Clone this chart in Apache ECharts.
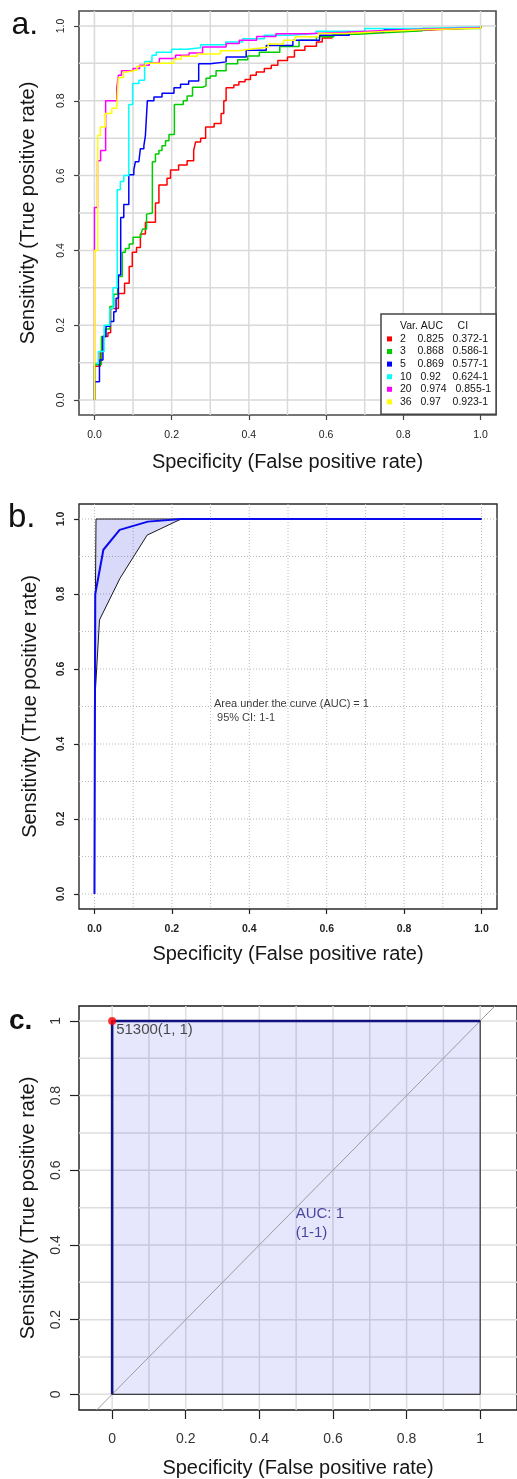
<!DOCTYPE html>
<html><head><meta charset="utf-8">
<script src="https://cdn.jsdelivr.net/npm/echarts@6/dist/echarts.min.js"></script>
<style>html,body{margin:0;padding:0;background:#fff}#c{width:517px;height:1479px}</style>
</head><body><div id="c"></div>
<script>
// ---------- shared ticks ----------
const gridVals = [0, 0.1, 0.2, 0.3, 0.4, 0.5, 0.6, 0.7, 0.8, 0.9, 1];
const tickVals = [0, 0.2, 0.4, 0.6, 0.8, 1];
const xTitle = 'Specificity (False positive rate)';
const yTitle = 'Sensitivity (True positive rate)';

// ---------- panel a ----------
const aVarNames = ['2', '3', '5', '10', '20', '36'];
const aAUC = ['0.825', '0.868', '0.869', '0.92', '0.974', '0.97'];
const aCI = ['0.372-1', '0.586-1', '0.577-1', '0.624-1', '0.855-1', '0.923-1'];
const aLegendHeader = 'Var. AUC     CI';
const roc2 = [[0,0],[0,0.09],[0.015,0.13],[0.022,0.17],[0.035,0.18],[0.042,0.245],[0.062,0.285],[0.078,0.312],[0.09,0.357],[0.098,0.395],[0.109,0.408],[0.119,0.444],[0.132,0.475],[0.158,0.527],[0.167,0.575],[0.188,0.593],[0.197,0.615],[0.218,0.628],[0.24,0.64],[0.257,0.667],[0.262,0.69],[0.275,0.70],[0.288,0.73],[0.31,0.739],[0.328,0.766],[0.335,0.80],[0.341,0.835],[0.361,0.842],[0.374,0.851],[0.39,0.857],[0.404,0.868],[0.419,0.877],[0.44,0.886],[0.458,0.895],[0.475,0.908],[0.50,0.917],[0.518,0.935],[0.545,0.946],[0.575,0.957],[0.59,0.968],[0.615,0.975],[0.64,0.982],[0.70,0.986],[0.79,0.99],[0.88,0.995],[1,1]];
const roc3 = [[0,0],[0,0.094],[0.018,0.17],[0.028,0.19],[0.04,0.25],[0.05,0.283],[0.06,0.33],[0.072,0.395],[0.08,0.405],[0.09,0.417],[0.10,0.435],[0.12,0.444],[0.125,0.457],[0.135,0.497],[0.14,0.50],[0.15,0.637],[0.158,0.658],[0.167,0.667],[0.175,0.68],[0.184,0.693],[0.193,0.71],[0.207,0.79],[0.23,0.80],[0.24,0.813],[0.254,0.836],[0.28,0.84],[0.289,0.86],[0.30,0.866],[0.315,0.88],[0.341,0.899],[0.371,0.91],[0.397,0.92],[0.427,0.93],[0.48,0.945],[0.53,0.962],[0.575,0.971],[0.62,0.978],[0.68,0.982],[0.75,0.987],[0.85,0.993],[1,1]];
const roc5 = [[0,0],[0,0.049],[0.013,0.107],[0.022,0.17],[0.03,0.197],[0.041,0.21],[0.05,0.236],[0.056,0.272],[0.062,0.334],[0.068,0.488],[0.076,0.523],[0.089,0.602],[0.102,0.615],[0.106,0.637],[0.115,0.641],[0.119,0.672],[0.128,0.68],[0.132,0.707],[0.137,0.80],[0.154,0.81],[0.175,0.82],[0.206,0.835],[0.223,0.844],[0.244,0.853],[0.27,0.899],[0.30,0.904],[0.341,0.917],[0.393,0.935],[0.445,0.948],[0.514,0.962],[0.583,0.975],[0.66,0.984],[0.75,0.99],[0.85,0.995],[1,1]];
const roc10 = [[0,0],[0,0.098],[0.01,0.13],[0.025,0.2],[0.04,0.245],[0.048,0.30],[0.059,0.562],[0.067,0.584],[0.076,0.60],[0.089,0.79],[0.099,0.846],[0.115,0.855],[0.13,0.905],[0.149,0.922],[0.16,0.93],[0.2,0.938],[0.24,0.942],[0.275,0.95],[0.34,0.957],[0.384,0.966],[0.44,0.975],[0.505,0.98],[0.574,0.986],[0.7,0.993],[0.85,0.997],[1,1]];
const roc20 = [[0,0],[0,0.515],[0.008,0.64],[0.016,0.667],[0.029,0.80],[0.058,0.836],[0.062,0.868],[0.07,0.88],[0.10,0.886],[0.117,0.895],[0.142,0.901],[0.168,0.913],[0.21,0.922],[0.245,0.928],[0.28,0.944],[0.341,0.953],[0.375,0.962],[0.42,0.972],[0.47,0.979],[0.55,0.983],[0.65,0.988],[0.75,0.991],[0.85,0.995],[1,1]];
const roc36 = [[0,0],[0,0.40],[0.0085,0.707],[0.015,0.73],[0.028,0.766],[0.045,0.78],[0.058,0.786],[0.062,0.862],[0.075,0.877],[0.085,0.882],[0.11,0.892],[0.132,0.90],[0.206,0.912],[0.225,0.919],[0.266,0.925],[0.326,0.934],[0.37,0.939],[0.413,0.943],[0.45,0.952],[0.49,0.962],[0.52,0.971],[0.58,0.98],[0.65,0.985],[0.75,0.99],[0.85,0.994],[1,1]];
const aRocs = [roc2, roc3, roc5, roc10, roc20, roc36];

// ---------- panel b ----------
const bRoc = [[0,0],[0.002,0.80],[0.023,0.918],[0.065,0.971],[0.138,0.993],[0.224,1.0],[1,1]];
const bUpper = [[0,0],[0,0.5],[0.004,1.0],[1,1]];
const bLower = [[0,0],[0,0.5],[0.013,0.731],[0.066,0.842],[0.136,0.957],[0.224,1.0],[1,1]];
const bText = ['Area under the curve (AUC) = 1', ' 95% CI: 1-1'];

// ---------- panel c ----------
const cRoc = [[0,0],[0,1],[1,1]];
const cBest = [0, 1];
const cBestLabel = '51300(1, 1)';
const cAucText = ['AUC: 1', '(1-1)'];

// ---------- styling / layout ----------
const FONT = '"Liberation Sans", Arial, Helvetica, sans-serif';
const aColors = ['#ff0000', '#00cd00', '#0000ff', '#00ffff', '#ff00ff', '#ffff00'];
const aRange = {x: [-0.04, 1.04], y: [-0.04, 1.04]};
const bRange = {x: [-0.04, 1.04], y: [-0.04, 1.04]};
const cRange = {x: [-0.09, 1.1], y: [-0.042, 1.04]};
const bTextAnchor = [0.31, 0.524];
const cAucAnchor = [0.5, 0.508];

function fmt1(v) { return v.toFixed(1); }
function fmtC(v) { return String(v); }

function mkX(gi, range, o) {
  return {
    gridIndex: gi, type: 'value', min: range[0], max: range[1], position: 'bottom',
    axisLine: {show: false, onZero: false},
    axisTick: {show: true, customValues: tickVals, length: o.tickLen, inside: false, lineStyle: {color: o.tickColor, width: 1.2}},
    axisLabel: {customValues: tickVals, formatter: o.fmt, margin: o.xMargin, fontSize: o.labelSize, fontWeight: o.labelWeight || 'normal', color: o.labelColor, fontFamily: FONT},
    splitLine: {show: false},
    name: xTitle, nameLocation: 'middle', nameGap: o.xNameGap,
    nameTextStyle: {fontSize: 20, lineHeight: 20, color: '#161616', fontFamily: FONT}
  };
}
function mkY(gi, range, o) {
  return {
    gridIndex: gi, type: 'value', min: range[0], max: range[1], position: 'left',
    axisLine: {show: false, onZero: false},
    axisTick: {show: true, customValues: tickVals, length: o.tickLen, inside: false, lineStyle: {color: o.tickColor, width: 1.2}},
    axisLabel: {customValues: tickVals, formatter: o.fmt, rotate: 90, margin: o.yMargin, fontSize: o.labelSize, fontWeight: o.labelWeight || 'normal', color: o.labelColor, fontFamily: FONT},
    splitLine: {show: false},
    name: yTitle, nameLocation: 'middle', nameRotate: 90, nameGap: o.yNameGap,
    nameTextStyle: {fontSize: 20, lineHeight: 20, color: '#161616', fontFamily: FONT}
  };
}

function gridSeries(idx, style) {
  return [
    {type: 'custom', xAxisIndex: idx, yAxisIndex: idx, silent: true, z: 1,
     data: gridVals.map(v => [v, 0]),
     renderItem(params, api) {
       const cs = params.coordSys; const x = api.coord([api.value(0), 0])[0];
       return {type: 'line', shape: {x1: x, y1: cs.y, x2: x, y2: cs.y + cs.height}, style: Object.assign({}, style)};
     }},
    {type: 'custom', xAxisIndex: idx, yAxisIndex: idx, silent: true, z: 1,
     data: gridVals.map(v => [0, v]),
     renderItem(params, api) {
       const cs = params.coordSys; const y = api.coord([0, api.value(1)])[1];
       return {type: 'line', shape: {x1: cs.x, y1: y, x2: cs.x + cs.width, y2: y}, style: Object.assign({}, style)};
     }}
  ];
}

const series = [];
// panel a
series.push(...gridSeries(0, {stroke: '#d9d9d9', lineWidth: 1.5}));
aRocs.forEach((d, i) => series.push({
  type: 'line', name: aVarNames[i], xAxisIndex: 0, yAxisIndex: 0, data: d, step: 'end',
  symbol: 'none', showSymbol: false, color: aColors[i], silent: true, z: 3,
  lineStyle: {color: aColors[i], width: 1.5}
}));
series.push({type: 'line', name: 'hdr', xAxisIndex: 0, yAxisIndex: 0, data: [], symbol: 'none'});

// panel b
series.push(...gridSeries(1, {stroke: '#b8b8b8', lineWidth: 1, lineDash: [1, 2]}));
series.push({
  type: 'custom', xAxisIndex: 1, yAxisIndex: 1, silent: true, z: 2, data: [[0, 0]],
  renderItem(params, api) {
    const pts = bUpper.slice(1).concat(bLower.slice(1).reverse()).map(p => api.coord(p));
    return {type: 'polygon', shape: {points: pts}, style: {fill: 'rgba(20,20,225,0.16)'}};
  }
});
series.push({type: 'line', xAxisIndex: 1, yAxisIndex: 1, data: bUpper, symbol: 'none', silent: true, z: 3, lineStyle: {color: '#1a1a1a', width: 1}});
series.push({type: 'line', xAxisIndex: 1, yAxisIndex: 1, data: bLower, symbol: 'none', silent: true, z: 3, lineStyle: {color: '#1a1a1a', width: 1}});
series.push({type: 'line', xAxisIndex: 1, yAxisIndex: 1, data: bRoc, symbol: 'none', silent: true, z: 4, lineStyle: {color: '#0a0aee', width: 2}});
series.push({
  type: 'scatter', xAxisIndex: 1, yAxisIndex: 1, data: [bTextAnchor], symbolSize: 1, silent: true, z: 6,
  itemStyle: {color: 'rgba(0,0,0,0)'},
  label: {show: true, formatter: bText.join('\n'), position: [0, 0], align: 'left', verticalAlign: 'top',
          fontSize: 11, lineHeight: 14, color: '#0a0a0a', fontFamily: FONT}
});

// panel c
series.push(...gridSeries(2, {stroke: '#dedede', lineWidth: 1.5}));
series.push({type: 'line', xAxisIndex: 2, yAxisIndex: 2, data: cRoc, symbol: 'none', silent: true, z: 2,
  lineStyle: {width: 0, opacity: 0}, areaStyle: {color: 'rgba(0,0,235,0.14)'}});
series.push({type: 'line', xAxisIndex: 2, yAxisIndex: 2, data: [[cRange.y[0], cRange.y[0]], [cRange.y[1], cRange.y[1]]],
  symbol: 'none', silent: true, z: 3, lineStyle: {color: '#9c9c9c', width: 1}});
series.push({type: 'line', xAxisIndex: 2, yAxisIndex: 2, data: cRoc.concat([[1, 0], [0, 0]]), symbol: 'none', silent: true, z: 3,
  lineStyle: {color: '#1a1a1a', width: 1}});
series.push({type: 'line', xAxisIndex: 2, yAxisIndex: 2, data: cRoc, symbol: 'none', silent: true, z: 4,
  lineStyle: {color: '#12127e', width: 2.6}});
series.push({
  type: 'scatter', xAxisIndex: 2, yAxisIndex: 2, data: [cBest], symbolSize: 8, silent: true, z: 6,
  itemStyle: {color: '#ff0000'},
  label: {show: true, formatter: cBestLabel, position: [8, 3.5], align: 'left', verticalAlign: 'top',
          fontSize: 15, lineHeight: 19, color: '#1e1e1e', fontFamily: FONT}
});
series.push({
  type: 'scatter', xAxisIndex: 2, yAxisIndex: 2, data: [cAucAnchor], symbolSize: 1, silent: true, z: 6,
  itemStyle: {color: 'rgba(0,0,0,0)'},
  label: {show: true, formatter: cAucText.join('\n'), position: [0, 0], align: 'left', verticalAlign: 'top',
          fontSize: 15, lineHeight: 19, color: '#1c1c84', fontFamily: FONT}
});

const optA = {tickLen: 5, tickColor: '#444', fmt: fmt1, xMargin: 15, yMargin: 12, labelSize: 10.5, labelColor: '#222', xNameGap: 37, yNameGap: 41};
const optB = {tickLen: 5, tickColor: '#222', fmt: fmt1, xMargin: 15, yMargin: 12, labelSize: 10.5, labelWeight: 'bold', labelColor: '#222', xNameGap: 35, yNameGap: 39};
const optC = {tickLen: 9, tickColor: '#222', fmt: fmtC, xMargin: 22, yMargin: 16, labelSize: 14, labelColor: '#333', xNameGap: 48, yNameGap: 41};

const option = {
  animation: false,
  backgroundColor: '#fff',
  grid: [
    {left: 79, top: 11, width: 417, height: 404, show: true, borderColor: '#4a4a4a', borderWidth: 1.6, backgroundColor: 'transparent'},
    {left: 79, top: 504, width: 418, height: 405, show: true, borderColor: '#2a2a2a', borderWidth: 1.4, backgroundColor: 'transparent'},
    {left: 79, top: 1006, width: 445.2, height: 404, show: true, borderColor: '#1a1a1a', borderWidth: 1.4, backgroundColor: 'transparent'}
  ],
  xAxis: [mkX(0, aRange.x, optA), mkX(1, bRange.x, optB), mkX(2, cRange.x, optC)],
  yAxis: [mkY(0, aRange.y, optA), mkY(1, bRange.y, optB), mkY(2, cRange.y, optC)],
  legend: {
    orient: 'vertical', left: 381, top: 314, padding: [6, 5, 6, 6],
    itemWidth: 5, itemHeight: 5, itemGap: 0, selectedMode: false,
    backgroundColor: '#fff', borderColor: '#444', borderWidth: 1.5, borderRadius: 0,
    textStyle: {fontSize: 10.5, lineHeight: 12.6, color: '#141414', fontFamily: FONT, padding: [0, 0, 0, 3]},
    data: [{name: 'hdr', icon: 'none'}].concat(aVarNames.map((n, i) => ({name: n, icon: 'rect', itemStyle: {color: aColors[i]}}))),
    formatter(name) {
      if (name === 'hdr') return aLegendHeader;
      const i = aVarNames.indexOf(name);
      const p1 = name.length === 1 ? '    ' : '   ';
      const p2 = aAUC[i].length === 4 ? '    ' : '   ';
      return name + p1 + aAUC[i] + p2 + aCI[i];
    }
  },
  graphic: [
    {type: 'text', x: 11.5, y: 25, style: {text: 'a.', fontSize: 32, fontFamily: FONT, fill: '#111', verticalAlign: 'middle'}},
    {type: 'text', x: 8, y: 518, style: {text: 'b.', fontSize: 33, fontFamily: FONT, fill: '#111', verticalAlign: 'middle'}},
    {type: 'text', x: 9, y: 1021, style: {text: 'c.', fontSize: 28, fontWeight: 'bold', fontFamily: FONT, fill: '#111', verticalAlign: 'middle'}}
  ],
  series: series
};

const chart = echarts.init(document.getElementById('c'), null, {renderer: 'canvas'});
chart.setOption(option);
</script>
</body></html>
